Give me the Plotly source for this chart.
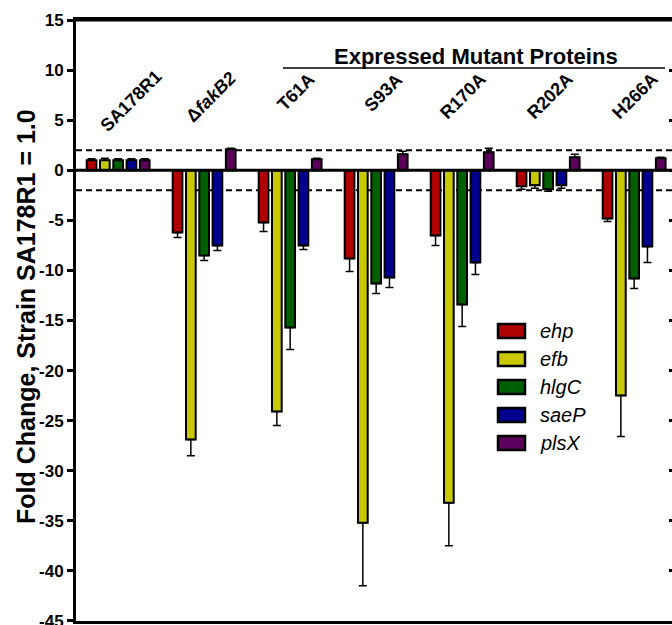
import plotly.graph_objects as go

# ---------------- data ----------------
strains = ["SA178R1", "ΔfakB2", "T61A", "S93A", "R170A", "R202A", "H266A"]
strain_labels = ["SA178R1", "Δ<i>fakB2</i>", "T61A", "S93A", "R170A", "R202A", "H266A"]
genes = ["ehp", "efb", "hlgC", "saeP", "plsX"]

ehp = [1.0, -6.2, -5.2, -8.8, -6.5, -1.6, -4.8]
ehp_err = [0.15, 0.5, 0.9, 1.3, 1.0, 0.3, 0.3]
efb = [1.0, -26.9, -24.1, -35.2, -33.2, -1.5, -22.5]
efb_err = [0.2, 1.6, 1.4, 6.3, 4.3, 0.3, 4.1]
hlgC = [1.0, -8.5, -15.7, -11.3, -13.4, -1.9, -10.8]
hlgC_err = [0.15, 0.5, 2.2, 1.0, 2.2, 0.2, 1.0]
saeP = [1.0, -7.5, -7.5, -10.7, -9.2, -1.5, -7.6]
saeP_err = [0.15, 0.5, 0.4, 1.0, 1.2, 0.3, 1.6]
plsX = [1.0, 2.1, 1.1, 1.6, 1.8, 1.3, 1.2]
plsX_err = [0.15, 0.1, 0.1, 0.3, 0.4, 0.3, 0.1]

threshold = 2.0
y_ticks = [15, 10, 5, 0, -5, -10, -15, -20, -25, -30, -35, -40, -45]
group_title = "Expressed Mutant Proteins"
y_title = "Fold Change, Strain SA178R1 = 1.0"

# ---------------- styles ----------------
colors = ["#AE0000", "#C8C800", "#005F00", "#00008C", "#5C005C"]
series = [(ehp, ehp_err), (efb, efb_err), (hlgC, hlgC_err), (saeP, saeP_err), (plsX, plsX_err)]

W, H = 672, 625
ML, MR, MT, MB = 76, 0, 20, 4
FONT = "Liberation Sans, Arial, sans-serif"


def px_x(px):
    return (px - ML) / (W - ML - MR)


def px_y(py):
    return (H - MB - py) / (H - MT - MB)


fig = go.Figure()
for name, (vals, errs), col in zip(genes, series, colors):
    up = [e if v >= 0 else 0 for v, e in zip(vals, errs)]
    down = [e if v < 0 else 0 for v, e in zip(vals, errs)]
    fig.add_trace(go.Bar(
        x=strains, y=vals, name=name,
        marker=dict(color=col, line=dict(color="black", width=2)),
        error_y=dict(type="data", symmetric=False, array=up, arrayminus=down,
                     color="black", thickness=1.5, width=4),
        showlegend=False,
    ))

# invisible trace to activate right tick axis
fig.add_trace(go.Scatter(x=[strains[0]], y=[0], yaxis="y2", mode="markers",
                         marker=dict(opacity=0), showlegend=False, hoverinfo="skip"))

shapes = []
for t in (threshold, -threshold):
    shapes.append(dict(type="line", xref="paper", x0=0, x1=1, yref="y", y0=t, y1=t,
                       line=dict(color="black", width=2, dash="6px,4px"), layer="below"))
# zero line
shapes.append(dict(type="line", xref="paper", x0=0, x1=1, yref="y", y0=0, y1=0,
                   line=dict(color="black", width=3), layer="above"))
# top frame line
shapes.append(dict(type="line", xref="paper", x0=0, x1=1, yref="paper", y0=1, y1=1,
                   line=dict(color="black", width=3)))
# bracket line under group title
shapes.append(dict(type="line", xref="paper", x0=px_x(283), x1=px_x(665),
                   yref="paper", y0=px_y(68), y1=px_y(68),
                   line=dict(color="black", width=1.5)))

annotations = []
label_pos = [(131, 101), (211, 97), (296, 92), (383, 93), (463, 96), (550, 96), (635, 96)]
for lab, (cx, cy) in zip(strain_labels, label_pos):
    annotations.append(dict(text=f"<b>{lab}</b>", xref="paper", yref="paper",
                            x=px_x(cx), y=px_y(cy), xanchor="center", yanchor="middle",
                            textangle=-45, showarrow=False,
                            font=dict(family=FONT, size=18, color="black")))
annotations.append(dict(text=f"<b>{group_title}</b>", xref="paper", yref="paper",
                        x=px_x(476), y=px_y(57), xanchor="center", yanchor="middle",
                        showarrow=False, font=dict(family=FONT, size=22, color="black")))
annotations.append(dict(text=f"<b>{y_title}</b>", xref="paper", yref="paper",
                        x=px_x(26), y=px_y(317), xanchor="center", yanchor="middle",
                        textangle=-90, showarrow=False,
                        font=dict(family=FONT, size=25, color="black")))

# legend drawn as keys + text
for i, (name, col) in enumerate(zip(genes, colors)):
    cy = 331 + 28 * i
    shapes.append(dict(type="rect", xref="paper", yref="paper",
                       x0=px_x(498), x1=px_x(525), y0=px_y(cy - 7), y1=px_y(cy + 7),
                       fillcolor=col, line=dict(color="black", width=2.5)))
    annotations.append(dict(text=f"<i>{name}</i>", xref="paper", yref="paper",
                            x=px_x(538), y=px_y(cy), xanchor="left", yanchor="middle",
                            showarrow=False, font=dict(family=FONT, size=20, color="black")))

fig.update_layout(
    width=W, height=H,
    margin=dict(l=ML, r=MR, t=MT, b=MB, pad=0, autoexpand=False),
    paper_bgcolor="white", plot_bgcolor="white",
    barmode="group", bargap=0.227, bargroupgap=0.27,
    showlegend=False,
    xaxis=dict(type="category", range=[-0.49, 6.44], showticklabels=False, ticks="",
               showgrid=False, zeroline=False, showline=True, linecolor="black",
               linewidth=3, mirror=True, automargin=False),
    yaxis=dict(range=[-45.02, 15.02], tickvals=y_ticks, ticktext=[str(v) for v in y_ticks],
               ticks="outside", ticklen=6, tickwidth=2.5, tickcolor="black",
               ticklabeloverflow="allow", automargin=False,
               tickfont=dict(family=FONT, size=17, color="black", weight="bold"),
               showgrid=False, zeroline=False, showline=True, linecolor="black",
               linewidth=3),
    yaxis2=dict(range=[-45.02, 15.02], tickvals=y_ticks, overlaying="y", side="right",
                anchor="x", ticks="inside", ticklen=3, tickwidth=2.5, tickcolor="black",
                showticklabels=False, showgrid=False, zeroline=False, showline=False,
                automargin=False),
    shapes=shapes,
    annotations=annotations,
)

fig.write_html("out.html", config={"displayModeBar": False},
               post_script="document.body.style.margin='0px';document.body.style.overflow='hidden';")
